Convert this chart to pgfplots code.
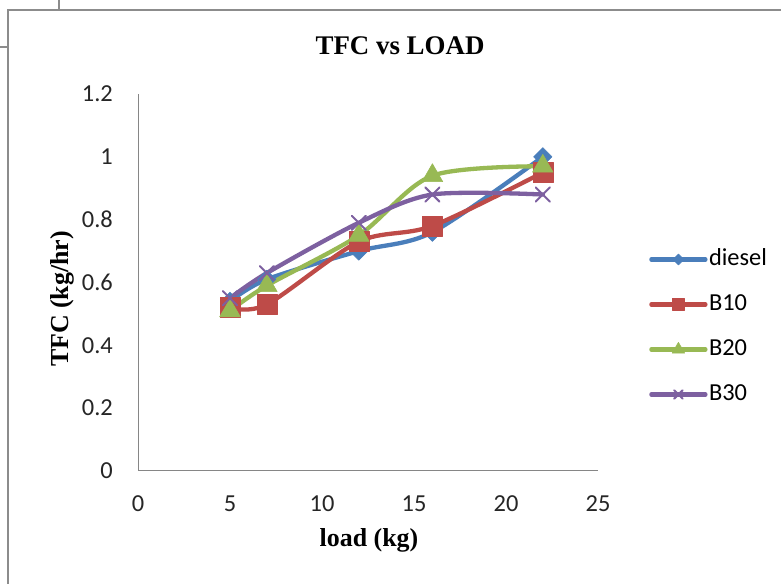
\documentclass[border=0pt]{standalone}
\usepackage{fontspec}
\setmainfont{Liberation Serif}
\newfontfamily\calibri{Carlito}
\usepackage{pgfplots}
\pgfplotsset{compat=1.18}
\definecolor{cdiesel}{HTML}{4A7EBB}
\definecolor{cbten}{HTML}{BE4B48}
\definecolor{cbtwenty}{HTML}{98B954}
\definecolor{cbthirty}{HTML}{7D60A0}
\definecolor{frame}{HTML}{8C8C8C}
\definecolor{axisgray}{HTML}{868686}
\begin{document}
\begin{tikzpicture}[x=1bp,y=1bp]
\useasboundingbox (0,0) rectangle (781,584);
\fill[white] (0,0) rectangle (781,584);
% screenshot frame lines
\draw[frame, line width=2bp] (7.5,0) -- (7.5,574) -- (781,574);
\draw[frame, line width=2bp] (59,574) -- (59,584);
\draw[frame, line width=2bp] (0,537) -- (7.5,537);
\begin{axis}[
  at={(138bp,113bp)}, anchor=south west,
  scale only axis, width=460bp, height=377bp,
  xmin=0, xmax=25, ymin=0, ymax=1.2,
  xtick={0,5,10,15,20,25},
  ytick={0,0.2,0.4,0.6,0.8,1,1.2},
  yticklabels={0,0.2,0.4,0.6,0.8,1,1.2},
  axis lines*=left,
  axis line style={axisgray, line width=1bp, -},
  major tick length=0pt,
  /pgf/number format/assume math mode=true,
  ticklabel style={font=\calibri\fontsize{24.5}{28}\selectfont, text=black!85},
  xticklabel style={anchor=center, inner sep=0pt, yshift=-33bp},
  yticklabel style={anchor=east, inner sep=0pt, xshift=-25bp},
  clip=false,
  legend style={draw=none, fill=none, at={(1.111,0.382)}, anchor=west,
    font=\calibri\fontsize{24.5}{28}\selectfont, row sep=23bp, inner sep=0pt,
    nodes={inner sep=0pt, inner xsep=1.5bp, text height=17bp, text depth=5bp, anchor=base west}},
  legend cell align=left,
  legend image code/.code={
    \draw[mark repeat=2, mark phase=2, #1, every mark/.append style={scale=0.6}]
      plot coordinates {(0bp,6bp) (27bp,6bp) (54bp,6bp)};
  },
  every axis plot/.append style={line width=4.3bp, smooth, tension=0.5, line join=round, line cap=round},
]
\addplot[color=cdiesel, mark=square*, mark size=6.5bp, every mark/.append style={rotate=45, line width=0.5bp}]
  coordinates {(5,0.54) (7,0.61) (12,0.70) (16,0.76) (22,1.00)};
\addlegendentry{diesel}
\addplot[color=cbten, mark=square*, mark size=10bp, every mark/.append style={line width=0.5bp}]
  coordinates {(5,0.52) (7,0.53) (12,0.73) (16,0.78) (22,0.95)};
\addlegendentry{B10}
\addplot[color=cbtwenty, mark=triangle*, mark size=12bp, every mark/.append style={line width=0.5bp}]
  coordinates {(5,0.51) (7,0.59) (12,0.75) (16,0.94) (22,0.97)};
\addlegendentry{B20}
\addplot[color=cbthirty, mark=x, mark size=10bp, every mark/.append style={line width=2bp}]
  coordinates {(5,0.55) (7,0.63) (12,0.79) (16,0.88) (22,0.88)};
\addlegendentry{B30}
\end{axis}
\node[font=\bfseries\fontsize{27}{30}\selectfont, anchor=base] at (400,529) {TFC vs LOAD};
\node[font=\bfseries\fontsize{26}{30}\selectfont, anchor=base] at (369,37) {load (kg)};
\node[font=\bfseries\fontsize{26}{30}\selectfont, rotate=90, anchor=center] at (62,285) {TFC (kg/hr)};
\end{tikzpicture}
\end{document}
